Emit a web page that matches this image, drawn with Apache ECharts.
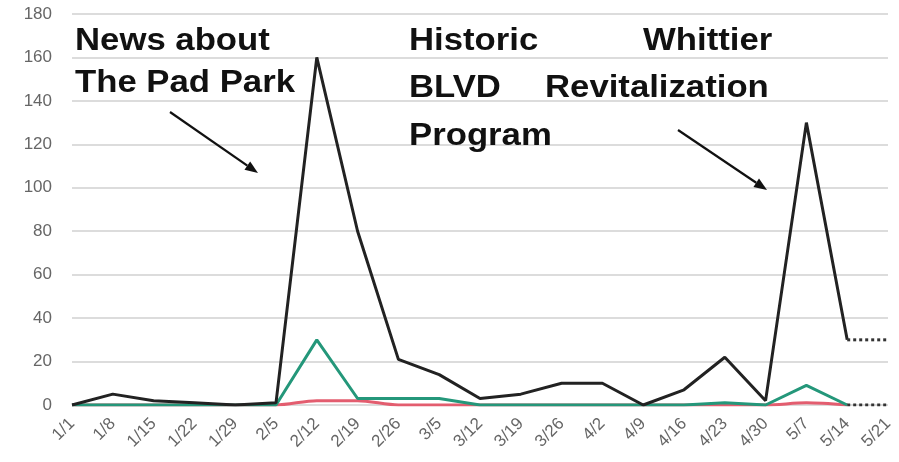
<!DOCTYPE html>
<html>
<head>
<meta charset="utf-8">
<script src="https://cdn.jsdelivr.net/npm/echarts@6/dist/echarts.min.js"></script>
<style>
  html, body { margin: 0; padding: 0; background: #fff; }
  #chart { width: 899px; height: 462px; }
</style>
</head>
<body>
<div id="chart"></div>
<script>
// Weekly counts, January to May
const weeks = ['1/1','1/8','1/15','1/22','1/29','2/5','2/12','2/19','2/26','3/5','3/12','3/19','3/26','4/2','4/9','4/16','4/23','4/30','5/7','5/14','5/21'];
const totalSeries = [0, 5, 2, 1, 0, 1, 160, 80, 21, 14, 3, 5, 10, 10, 0, 7, 22, 2, 130, 30, null];
const greenSeries = [0, 0, 0, 0, 0, 0, 30, 3, 3, 3, 0, 0, 0, 0, 0, 0, 1, 0, 9, 0, null];
const redSeries   = [0, 0, 0, 0, 0, 0, 2, 2, 0, 0, 0, 0, 0, 0, 0, 0, 0, 0, 1, 0, null];
// Incomplete last week, drawn dotted
const totalPartial = [null, null, null, null, null, null, null, null, null, null, null, null, null, null, null, null, null, null, null, 30, 30];
const zeroPartial  = [null, null, null, null, null, null, null, null, null, null, null, null, null, null, null, null, null, null, null, 0, 0];
const yTicks = [0, 20, 40, 60, 80, 100, 120, 140, 160, 180];

const chart = echarts.init(document.getElementById('chart'));

const labelFont = { fontFamily: 'Liberation Sans, Arial, sans-serif', fontWeight: 'bold', fontSize: 31, fill: '#111' };
function note(text, x, y) {
  return { type: 'text', left: x, top: y, z: 20, scaleX: 1.12,
    style: Object.assign({ text: text }, labelFont) };
}
function arrow(x1, y1, x2, y2) {
  const ang = Math.atan2(y2 - y1, x2 - x1);
  const len = 13, w = 5;
  const bx = x2 - len * Math.cos(ang), by = y2 - len * Math.sin(ang);
  const px = -Math.sin(ang) * w, py = Math.cos(ang) * w;
  return [
    { type: 'line', z: 20, shape: { x1: x1, y1: y1, x2: bx, y2: by }, style: { stroke: '#111', lineWidth: 2.2 } },
    { type: 'polygon', z: 20, shape: { points: [[x2, y2], [bx + px, by + py], [bx - px, by - py]] }, style: { fill: '#111' } }
  ];
}

chart.setOption({
  animation: false,
  grid: { left: 72, right: 11, top: 14, bottom: 57 },
  xAxis: {
    type: 'category',
    data: weeks,
    boundaryGap: false,
    axisLine: { show: false },
    axisTick: { show: false },
    axisLabel: { rotate: 45, color: '#666', fontSize: 17, fontFamily: 'Liberation Sans, Arial, sans-serif', margin: 16, interval: 0 }
  },
  yAxis: {
    type: 'value',
    min: yTicks[0],
    max: yTicks[yTicks.length - 1],
    interval: 20,
    axisLine: { show: false },
    axisTick: { show: false },
    axisLabel: { color: '#666', fontSize: 17, fontFamily: 'Liberation Sans, Arial, sans-serif', margin: 20 },
    splitLine: { lineStyle: { color: '#dcdcdc', width: 2 } }
  },
  series: [
    { type: 'line', data: redSeries, symbol: 'none', smooth: 0.3, lineStyle: { color: '#e35d6f', width: 3 }, z: 3 },
    { type: 'line', data: greenSeries, symbol: 'none', lineStyle: { color: '#24977a', width: 3 }, z: 4 },
    { type: 'line', data: totalSeries, symbol: 'none', lineStyle: { color: '#222', width: 3 }, z: 5 },
    { type: 'line', data: totalPartial, symbol: 'none', lineStyle: { color: '#333', width: 3, type: [3, 3] }, z: 5 },
    { type: 'line', data: zeroPartial, symbol: 'none', lineStyle: { color: '#333', width: 3, type: [3, 3] }, z: 5 }
  ],
  graphic: [
    note('News about', 75, 26),
    note('The Pad Park', 75, 68),
    note('Historic', 409, 26),
    note('BLVD', 409, 73),
    note('Program', 409, 121),
    note('Whittier', 643, 26),
    note('Revitalization', 545, 73)
  ].concat(arrow(170, 112, 258, 173), arrow(678, 130, 767, 190))
});
</script>
</body>
</html>
